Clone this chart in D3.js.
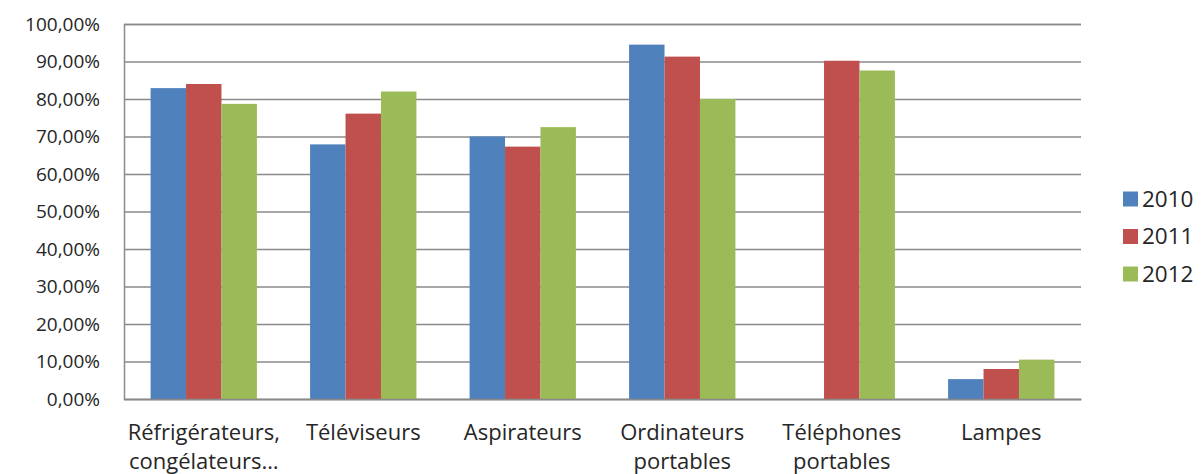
<!DOCTYPE html>
<html>
<head>
<meta charset="utf-8">
<script src="https://cdn.jsdelivr.net/npm/d3@7"></script>
<style>
	body { margin: 0; background: #fff; }
	svg text { font-family: "Open Sans", sans-serif; fill: #262626; }
</style>
</head>
<body>
<div id="chart"></div>
<script>
	const categories = [
		['Réfrigérateurs,', 'congélateurs…'],
		['Téléviseurs'],
		['Aspirateurs'],
		['Ordinateurs', 'portables'],
		['Téléphones', 'portables'],
		['Lampes'],
	];
	const years = ['2010', '2011', '2012'];
	const values2010 = [82.9, 67.9, 70.0, 94.5, null, 5.3];
	const values2011 = [84.0, 76.1, 67.3, 91.3, 90.2, 8.0];
	const values2012 = [78.7, 82.0, 72.5, 80.0, 87.6, 10.5];
	const yTicks = [0, 10, 20, 30, 40, 50, 60, 70, 80, 90, 100];
	const colors = ['#4f81bd', '#c0504d', '#9bbb59'];

	const seriesValues = [values2010, values2011, values2012];
	const catKeys = categories.map(c => c.join(' '));

	const width = 1201;
	const height = 474;
	const margin = { top: 24, right: 120, bottom: 75, left: 124 };
	const plotW = width - margin.left - margin.right;
	const plotH = height - margin.top - margin.bottom;

	const svg = d3.select('#chart').append('svg')
		.attr('width', width)
		.attr('height', height);
	const chart = svg.append('g')
		.attr('transform', `translate(${margin.left}, ${margin.top})`);

	const x = d3.scaleBand()
		.domain(catKeys)
		.range([0, plotW])
		.paddingInner(1 / 3)
		.paddingOuter(1 / 6);
	const xSub = d3.scaleBand()
		.domain(years)
		.range([0, x.bandwidth()]);
	const y = d3.scaleLinear()
		.domain([0, 100])
		.range([plotH, 0]);

	// gridlines + y labels
	const yAxis = d3.axisLeft(y)
		.tickValues(yTicks)
		.tickSize(-plotW)
		.tickPadding(24)
		.tickFormat(d => d3.format('.2f')(d).replace('.', ',') + '%');
	const gy = chart.append('g')
		.attr('class', 'y axis')
		.call(yAxis);
	gy.select('.domain').attr('stroke', '#8a8a8a').attr('stroke-width', 1.5);
	gy.selectAll('.tick line').attr('stroke', '#8a8a8a').attr('stroke-width', 1.5);
	gy.selectAll('.tick text')
		.style('font-size', '19px');

	// bars
	const groups = chart.selectAll('.bar-group')
		.data(catKeys)
		.enter().append('g')
			.attr('class', 'bar-group')
			.attr('transform', d => `translate(${x(d)}, 0)`);
	groups.selectAll('rect')
		.data((d, i) => years.map((yr, j) => ({ yr, v: seriesValues[j][i], c: colors[j] })))
		.enter().filter(d => d.v != null).append('rect')
			.attr('x', d => xSub(d.yr))
			.attr('width', xSub.bandwidth())
			.attr('y', d => y(d.v))
			.attr('height', d => y(0) - y(d.v))
			.attr('fill', d => d.c);

	// x axis
	const xAxis = d3.axisBottom(x).tickSize(0).tickFormat('');
	const gx = chart.append('g')
		.attr('class', 'x axis')
		.attr('transform', `translate(0, ${plotH})`)
		.call(xAxis);
	gx.select('.domain').attr('stroke', '#8a8a8a').attr('stroke-width', 1.5);
	gx.selectAll('.tick').each(function addLabel(d, i) {
		const t = d3.select(this).append('text')
			.attr('text-anchor', 'middle')
			.style('font-size', '22px');
		categories[i].forEach((line, k) => {
			t.append('tspan')
				.attr('x', 0)
				.attr('y', 41 + k * 28.5)
				.text(line);
		});
	});

	// legend
	const legend = svg.append('g')
		.attr('transform', 'translate(1123, 199)');
	years.forEach((yr, i) => {
		const row = legend.append('g').attr('transform', `translate(0, ${i * 37.5})`);
		row.append('rect')
			.attr('x', 0).attr('y', -7.5)
			.attr('width', 15).attr('height', 15)
			.attr('fill', colors[i]);
		row.append('text')
			.attr('x', 19).attr('y', 0)
			.attr('dy', '.35em')
			.style('font-size', '22.5px')
			.text(yr);
	});
</script>
</body>
</html>
